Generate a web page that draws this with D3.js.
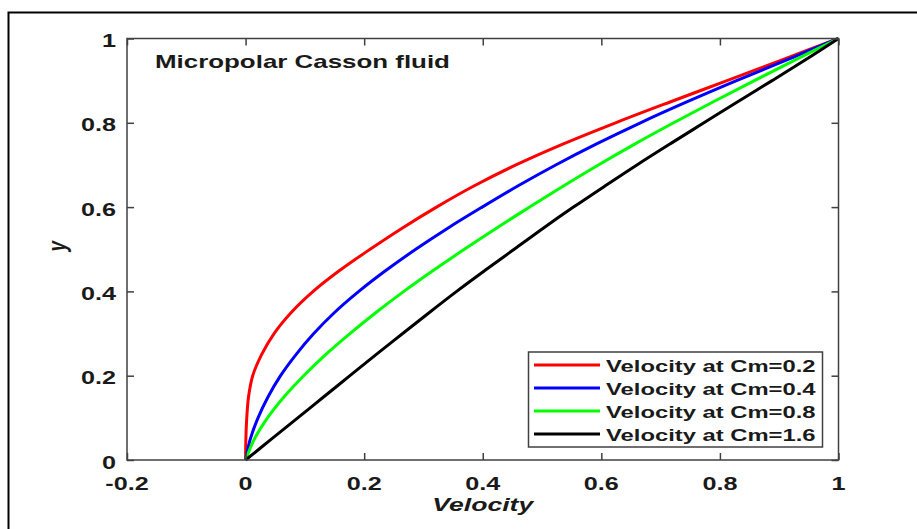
<!DOCTYPE html>
<html>
<head>
  <meta charset="utf-8">
  <title>Micropolar Casson fluid</title>
  <script src="https://d3js.org/d3.v7.min.js"></script>
  <style>
    body { margin: 0; background: #fff; }
    text { font-family: "Liberation Sans", Arial, sans-serif; font-weight: bold; fill: #1a1a1a; }
  </style>
</head>
<body>
  <script>
    var yLevels = [0, 0.05, 0.1, 0.15, 0.2, 0.25, 0.3, 0.35, 0.4, 0.45, 0.5,
                   0.55, 0.6, 0.65, 0.7, 0.75, 0.8, 0.85, 0.9, 0.95, 1];
    var velCm02 = [0, 0.0005, 0.002, 0.005, 0.012, 0.027, 0.048, 0.077, 0.114, 0.159, 0.21,
                   0.264, 0.322, 0.385, 0.456, 0.536, 0.624, 0.717, 0.812, 0.906, 1];
    var velCm04 = [0, 0.008, 0.021, 0.038, 0.059, 0.085, 0.115, 0.150, 0.191, 0.237, 0.287,
                   0.341, 0.399, 0.459, 0.523, 0.592, 0.666, 0.745, 0.828, 0.914, 1];
    var velCm08 = [0, 0.015, 0.037, 0.065, 0.098, 0.135, 0.176, 0.220, 0.267, 0.317, 0.369,
                   0.423, 0.479, 0.536, 0.595, 0.657, 0.722, 0.789, 0.858, 0.928, 1];
    var velCm16 = [0, 0.044, 0.088, 0.132, 0.176, 0.22, 0.265, 0.31, 0.356, 0.404, 0.453,
                   0.502, 0.553, 0.606, 0.66, 0.716, 0.773, 0.83, 0.888, 0.945, 1];

    var cmValues = ['0.2', '0.4', '0.8', '1.6'];
    var lineColors = ['#ff0000', '#0000ff', '#00ff00', '#000000'];
    var xTicks = [-0.2, 0, 0.2, 0.4, 0.6, 0.8, 1];
    var yTicks = [0, 0.2, 0.4, 0.6, 0.8, 1];

    var series = [velCm02, velCm04, velCm08, velCm16].map(function (v, i) {
      return { name: 'Velocity at Cm=' + cmValues[i], color: lineColors[i], points: d3.zip(v, yLevels) };
    });

    var w = 917, h = 529;
    var STRETCH = 1.4; // the picture is wide, glyphs are stretched sideways

    var svg = d3.select('body').append('svg')
      .attr('width', w)
      .attr('height', h)
      .style('display', 'block');
    svg.append('rect').attr('width', w).attr('height', h).attr('fill', '#fff');

    // outer figure frame (right / bottom cut off)
    svg.append('path')
      .attr('d', 'M8.5,' + h + 'V12.5H' + w)
      .attr('fill', 'none').attr('stroke', '#000').attr('stroke-width', 2);

    var x = d3.scaleLinear().domain([-0.2, 1]).range([127, 838.5]);
    var y = d3.scaleLinear().domain([0, 1]).range([460, 38.5]);

    function label(parent, px, py, str, size, anchor, italic, rot) {
      return parent.append('text')
        .attr('transform', 'translate(' + px + ',' + py + ') scale(' + STRETCH + ',1)' + (rot ? ' rotate(' + rot + ')' : ''))
        .attr('text-anchor', anchor)
        .style('font-size', size + 'px')
        .style('font-style', italic ? 'italic' : 'normal')
        .text(str);
    }

    // curves
    var line = d3.line()
      .x(function (d) { return x(d[0]); })
      .y(function (d) { return y(d[1]); })
      .curve(d3.curveCatmullRom.alpha(0.5));

    svg.append('g').selectAll('path')
      .data(series)
      .enter().append('path')
      .attr('d', function (d) { return line(d.points); })
      .attr('fill', 'none')
      .attr('stroke', function (d) { return d.color; })
      .attr('stroke-width', 3)
      .attr('stroke-linejoin', 'round');

    // axes box with inward ticks on all sides
    var tk = 7;
    function styleAxis(g) {
      g.select('.domain').remove();
      g.selectAll('.tick line').attr('stroke', '#404040').attr('stroke-width', 1.5);
      g.selectAll('.tick text').remove();
    }
    svg.append('g').attr('transform', 'translate(0,' + y(0) + ')')
      .call(d3.axisBottom(x).tickValues(xTicks).tickSize(-tk)).call(styleAxis);
    svg.append('g').attr('transform', 'translate(0,' + y(1) + ')')
      .call(d3.axisTop(x).tickValues(xTicks).tickSize(-tk)).call(styleAxis);
    svg.append('g').attr('transform', 'translate(' + x(-0.2) + ',0)')
      .call(d3.axisLeft(y).tickValues(yTicks).tickSize(-tk)).call(styleAxis);
    svg.append('g').attr('transform', 'translate(' + x(1) + ',0)')
      .call(d3.axisRight(y).tickValues(yTicks).tickSize(-tk)).call(styleAxis);
    svg.append('rect')
      .attr('x', x(-0.2)).attr('y', y(1))
      .attr('width', x(1) - x(-0.2)).attr('height', y(0) - y(1))
      .attr('fill', 'none').attr('stroke', '#404040').attr('stroke-width', 1.5);

    // tick labels
    xTicks.forEach(function (t) { label(svg, x(t), y(0) + 30, String(t), 18, 'middle'); });
    yTicks.forEach(function (t) { label(svg, x(-0.2) - 11, y(t) + 8.5, String(t), 18, 'end'); });

    // axis titles and in-plot title
    label(svg, (x(-0.2) + x(1)) / 2, 511, 'Velocity', 19, 'middle', true);
    label(svg, 66, (y(0) + y(1)) / 2 - 3, 'y', 19, 'middle', true, -90);
    label(svg, 155, 68, 'Micropolar Casson fluid', 18.5, 'start');

    // legend
    var lg = svg.append('g');
    lg.append('rect')
      .attr('x', 528.5).attr('y', 352)
      .attr('width', 294).attr('height', 95)
      .attr('fill', '#fff').attr('stroke', '#404040').attr('stroke-width', 1.5);
    series.forEach(function (s, i) {
      var ry = 365 + i * 23;
      lg.append('line')
        .attr('x1', 534).attr('x2', 600).attr('y1', ry).attr('y2', ry)
        .attr('stroke', s.color).attr('stroke-width', 3);
      label(lg, 606, ry + 6.5, s.name, 17, 'start');
    });
  </script>
</body>
</html>
